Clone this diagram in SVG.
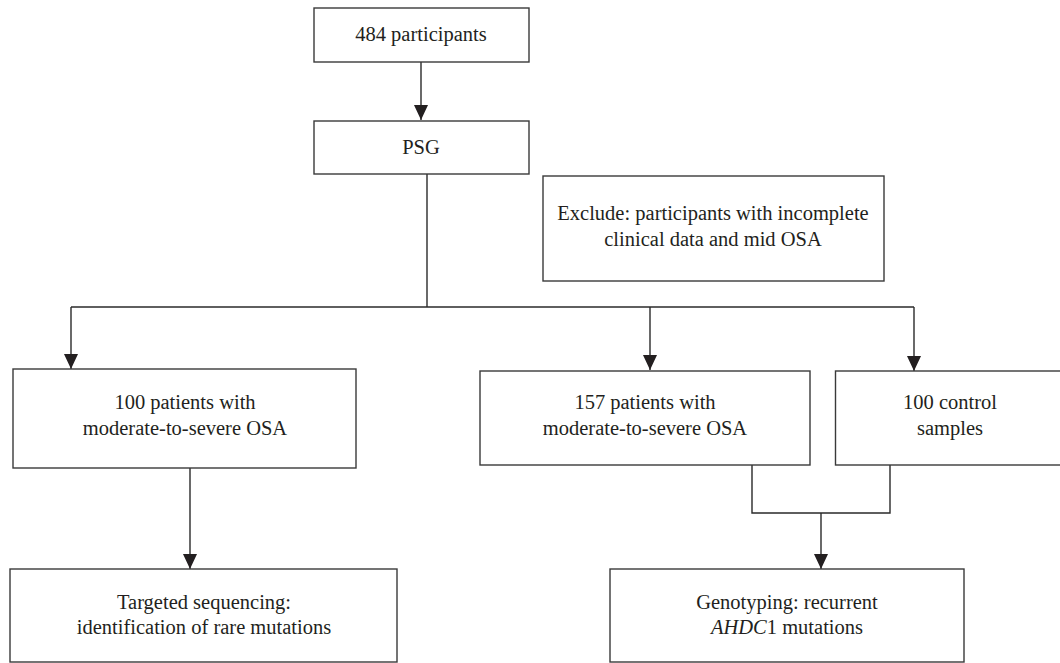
<svg xmlns="http://www.w3.org/2000/svg" width="1060" height="663" viewBox="0 0 1060 663">
<style>
.box{fill:#fff;stroke:#3a3a3a;stroke-width:1.4}
.ln{fill:none;stroke:#2a2a2a;stroke-width:1.4}
.t{font-family:'Liberation Serif','DejaVu Serif',serif;font-size:20.5px;fill:#231f20;text-anchor:middle}
</style>
<defs>
<marker id="ad" markerWidth="14" markerHeight="15" refX="7" refY="15" orient="0" markerUnits="userSpaceOnUse" viewBox="0 0 14 15">
<path d="M0,0 L14,0 L7,15 Z" fill="#231f20"/>
</marker>
</defs>
<rect width="1060" height="663" fill="#fff"/>
<g id="connectors">
<line class="ln" x1="421" y1="62" x2="421" y2="120" marker-end="url(#ad)"/>
<line class="ln" x1="427" y1="174" x2="427" y2="307"/>
<polyline class="ln" points="71,307 914,307"/>
<line class="ln" x1="71" y1="307" x2="71" y2="369" marker-end="url(#ad)"/>
<line class="ln" x1="650" y1="307" x2="650" y2="370" marker-end="url(#ad)"/>
<line class="ln" x1="914" y1="307" x2="914" y2="371" marker-end="url(#ad)"/>
<line class="ln" x1="190" y1="468" x2="190" y2="569" marker-end="url(#ad)"/>
<polyline class="ln" points="752,465 752,513 890,513 890,465"/>
<line class="ln" x1="821" y1="513" x2="821" y2="569" marker-end="url(#ad)"/>
</g>
<g id="n484">
<rect class="box" x="314" y="8" width="215" height="54"/>
<text class="t" x="421" y="41" font-family="Liberation Serif">484 participants</text>
</g>
<g id="psg">
<rect class="box" x="314" y="121" width="215" height="53"/>
<text class="t" x="421" y="154">PSG</text>
</g>
<g id="exclude">
<rect class="box" x="543" y="176" width="341" height="105"/>
<text class="t" x="713" y="220">Exclude: participants with incomplete</text>
<text class="t" x="713" y="246">clinical data and mid OSA</text>
</g>
<g id="p100">
<rect class="box" x="13" y="369" width="343" height="99"/>
<text class="t" x="185" y="409">100 patients with</text>
<text class="t" x="185" y="435">moderate-to-severe OSA</text>
</g>
<g id="p157">
<rect class="box" x="480" y="371" width="330" height="94"/>
<text class="t" x="645" y="409">157 patients with</text>
<text class="t" x="645" y="435">moderate-to-severe OSA</text>
</g>
<g id="control">
<rect class="box" x="835.5" y="371" width="230" height="94"/>
<text class="t" x="950" y="409">100 control</text>
<text class="t" x="950" y="435">samples</text>
</g>
<g id="targeted">
<rect class="box" x="10" y="569" width="387" height="93"/>
<text class="t" x="204" y="609">Targeted sequencing:</text>
<text class="t" x="204" y="634">identification of rare mutations</text>
</g>
<g id="genotyping">
<rect class="box" x="610" y="569" width="354" height="93"/>
<text class="t" x="787" y="609">Genotyping: recurrent</text>
<text class="t" x="787" y="634"><tspan font-style="italic">AHDC</tspan>1 mutations</text>
</g>
</svg>
